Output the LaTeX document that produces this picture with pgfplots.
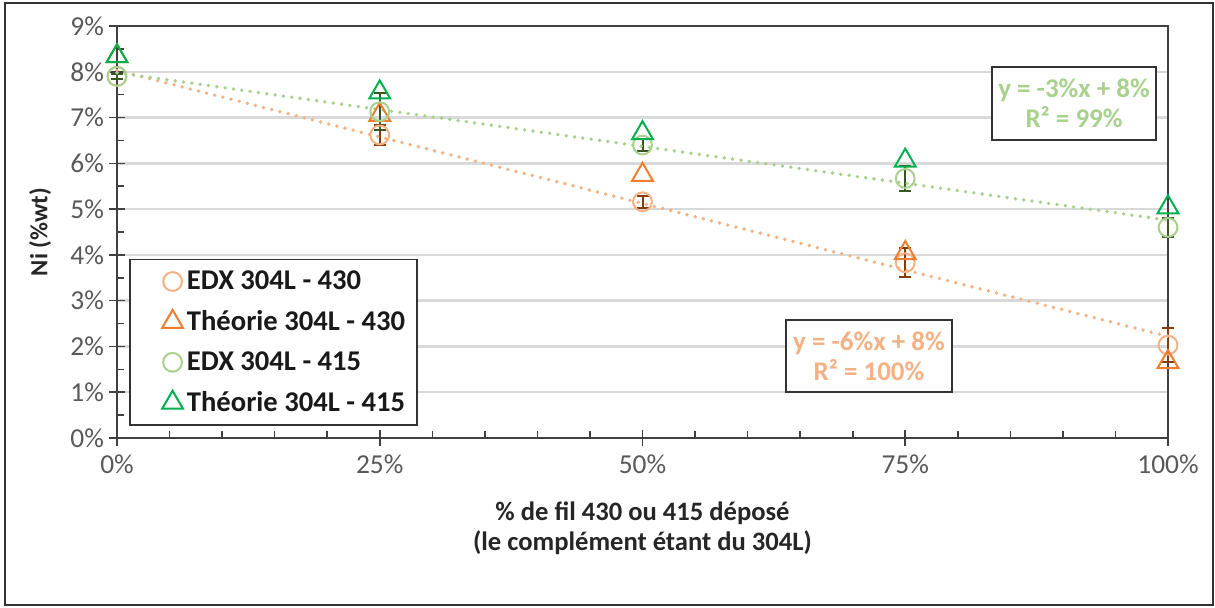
\documentclass[border=0pt]{standalone}
\usepackage{pgfplots}
\pgfplotsset{compat=1.18}
\usepackage{pgfplotstable}
\usepackage{fontspec}
\setmainfont{Carlito}
\definecolor{EDXo}{HTML}{F4B183}
\definecolor{THo}{HTML}{ED7D31}
\definecolor{EDXg}{HTML}{A9D18E}
\definecolor{THg}{HTML}{00B050}
\definecolor{errO}{HTML}{843C0C}
\definecolor{errG}{HTML}{385723}
\definecolor{gridc}{HTML}{D9D9D9}
\definecolor{axisc}{HTML}{404040}
\definecolor{tickc}{HTML}{595959}

\pgfplotstableread{
x y e
0 7.90 0.05
25 6.62 0.22
50 5.16 0.13
75 3.83 0.31
100 2.03 0.37
}\edxo
\pgfplotstableread{
x y
0 8.34
25 7.06
50 5.75
75 4.04
100 1.66
}\tho
\pgfplotstableread{
x y e
0 7.90 0.05
25 7.13 0.40
50 6.40 0.13
75 5.67 0.28
100 4.60 0.20
}\edxg
\pgfplotstableread{
x y
0 8.34
25 7.55
50 6.66
75 6.06
100 5.04
}\thg

\pgfplotsset{
  oneimg/.style={legend image code/.code={\path (-17pt,0pt) (4.5pt,0pt); \draw[##1] plot coordinates {(0pt,0pt)};}}
}

\begin{document}
\begin{tikzpicture}
\path[use as bounding box] (-58.5pt,-84.5pt) rectangle (549pt,219pt);
\draw[black!80, line width=0.9pt] (-56pt,-83.5pt) rectangle (548pt,217.5pt);
\begin{axis}[
  at={(0pt,0pt)}, anchor=south west,
  width=525.5pt, height=206pt, scale only axis,
  xmin=0, xmax=100, ymin=0, ymax=9,
  clip=false,
  xtick={0,25,50,75,100},
  xticklabels={0\%,25\%,50\%,75\%,100\%},
  minor x tick num=4,
  ytick={0,1,2,3,4,5,6,7,8,9},
  yticklabels={0\%,1\%,2\%,3\%,4\%,5\%,6\%,7\%,8\%,9\%},
  minor y tick num=1,
  tick align=inside,
  major tick length=4pt, minor tick length=3.5pt,
  xtick pos=bottom, ytick pos=left,
  extra x ticks={0,25,50,75,100},
  extra y ticks={0,1,2,3,4,5,6,7,8,9},
  extra tick style={tick align=outside, grid=none, xticklabel={}, yticklabel={}},
  ymajorgrids,
  grid style={color=gridc, line width=1.2pt},
  axis line style={color=axisc, line width=0.8pt},
  tick style={color=axisc, line width=0.8pt},
  ticklabel style={font=\fontsize{13.7}{16}\selectfont, text=tickc},
  yticklabel style={xshift=-3pt},
  xticklabel style={yshift=-5pt},
  xlabel={\% de fil 430 ou 415 déposé\\(le complément étant du 304L)},
  xlabel style={align=center, font=\bfseries\fontsize{13.3}{15}\selectfont, text=black!85, at={(rel axis cs:0.5,0)}, anchor=center, yshift=-45pt},
  ylabel={Ni (\%wt)},
  ylabel style={font=\bfseries\fontsize{12.3}{15}\selectfont, text=black!85, at={(rel axis cs:0,0.5)}, anchor=center, rotate=0, yshift=38.5pt},
  legend style={at={(0.0114,0.029)}, anchor=south west, draw=black!80, line width=0.8pt,
    font=\bfseries\fontsize{14.3}{15}\selectfont, text=black!90, row sep=7pt,
    inner xsep=4pt, inner ysep=4.5pt, nodes={inner xsep=2pt, inner ysep=1pt}},
  legend cell align=left,
]
\addplot[only marks, oneimg, mark=o, mark size=4.7pt, color=EDXo, mark options={line width=1pt},
  error bars/.cd, y dir=both, y explicit,
  error bar style={errO, line width=1pt},
  error mark options={rotate=90, errO, mark size=3pt, line width=1pt}]
  table[x=x, y=y, y error=e] {\edxo};
\addlegendentry{EDX 304L - 430}
\addplot[only marks, oneimg, mark=triangle, mark size=6pt, color=THo, mark options={line width=1pt}]
  table[x=x, y=y] {\tho};
\addlegendentry{Théorie 304L - 430}
\addplot[only marks, oneimg, mark=o, mark size=4.7pt, color=EDXg, mark options={line width=1pt},
  error bars/.cd, y dir=both, y explicit,
  error bar style={errG, line width=1pt},
  error mark options={rotate=90, errG, mark size=3pt, line width=1pt}]
  table[x=x, y=y, y error=e] {\edxg};
\addlegendentry{EDX 304L - 415}
\addplot[only marks, oneimg, mark=triangle, mark size=6pt, color=THg, mark options={line width=1pt}]
  table[x=x, y=y] {\thg};
\addlegendentry{Théorie 304L - 415}
% trend lines
\addplot[forget plot, no marks, EDXo, line width=1.9pt, line cap=round, dash pattern=on 0pt off 4.2pt]
  coordinates {(0,8.03) (100,2.22)};
\addplot[forget plot, no marks, EDXg, line width=1.9pt, line cap=round, dash pattern=on 0pt off 4.2pt]
  coordinates {(0,7.98) (100,4.76)};
% trend equations
\node[draw=black!80, line width=0.8pt, fill=white, text=EDXg, font=\bfseries\fontsize{13.5}{15}\selectfont,
  align=center, minimum width=82pt, minimum height=36.5pt, inner sep=2pt]
  at (axis cs:91.06,7.31) {y = -3\%x + 8\%\\R² = 99\%};
\node[draw=black!80, line width=0.8pt, fill=white, text=EDXo, font=\bfseries\fontsize{13.5}{15}\selectfont,
  align=center, minimum width=83pt, minimum height=36pt, inner sep=2pt]
  at (axis cs:71.55,1.79) {y = -6\%x + 8\%\\R² = 100\%};
\end{axis}
\end{tikzpicture}
\end{document}
